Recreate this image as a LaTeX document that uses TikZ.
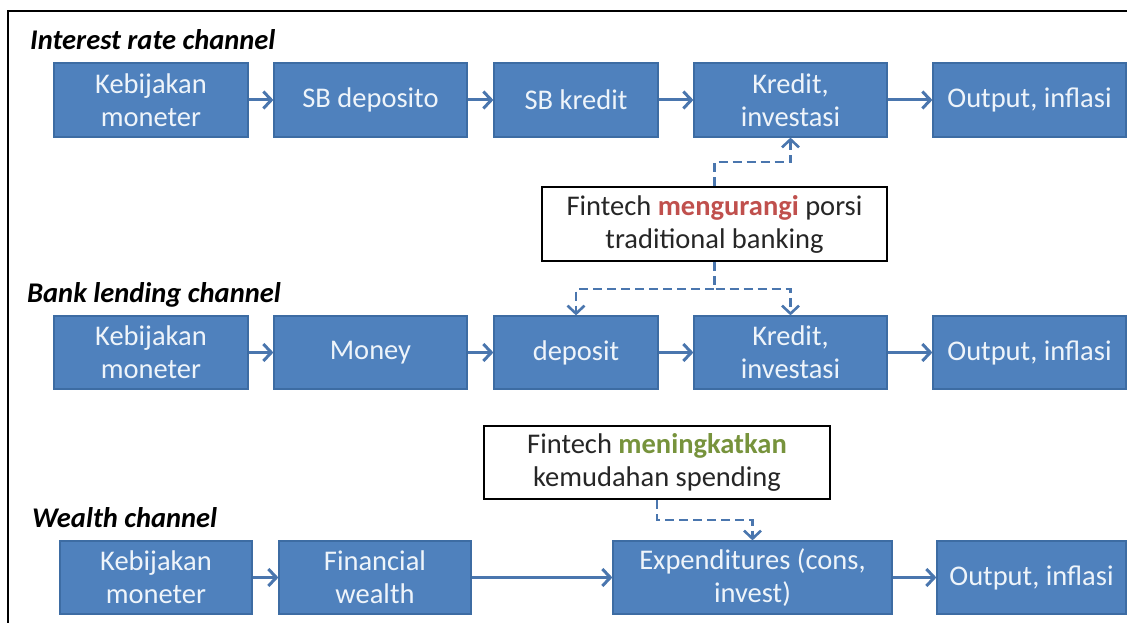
\documentclass[tikz,border=0pt]{standalone}
\usepackage{fontspec}
\setmainfont{Carlito}
\usetikzlibrary{arrows.meta}
\definecolor{boxblue}{HTML}{4F81BD}
\definecolor{boxedge}{HTML}{3D6CA3}
\definecolor{boxtext}{HTML}{EEF4FA}
\definecolor{linkblue}{HTML}{4A76AE}
\definecolor{redword}{HTML}{C0504D}
\definecolor{greenword}{HTML}{77933C}
\begin{document}
\begin{tikzpicture}[x=1pt,y=-1pt,
  stage/.style={draw=boxedge, fill=boxblue, line width=1.2pt, text=boxtext,
    inner sep=0pt, align=center, font=\fontsize{28.5}{33}\selectfont},
  note/.style={draw=black, fill=white, line width=2.2pt, text=black!85,
    inner sep=0pt, align=center, font=\fontsize{28.5}{33}\selectfont},
  chan/.style={anchor=base west, inner sep=0pt,
    font=\fontsize{28.5}{33}\selectfont\bfseries\itshape},
  flow/.style={draw=linkblue, line width=3pt,
    -{Straight Barb[length=8pt,width=17pt]}},
  hint/.style={draw=linkblue, line width=2.6pt, dash pattern=on 9pt off 5pt,
    -{Straight Barb[length=8pt,width=17pt]}}
]
\useasboundingbox (0,0) rectangle (1127,623);

% outer frame (left and top edges)
\draw[line width=2pt] (8,623) -- (8,11) -- (1127,11);

% channel titles
\node[chan] (t1) at (30,50) {Interest rate channel};
\node[chan] (t2) at (27,302) {Bank lending channel};
\node[chan] (t3) at (32,527) {Wealth channel};

% interest rate channel
\node[stage, minimum width=194pt, minimum height=74pt] (a1) at (151,100) {Kebijakan\\moneter};
\node[stage, minimum width=193pt, minimum height=74pt] (a2) at (370.5,100) {SB deposito};
\node[stage, minimum width=164pt, minimum height=74pt] (a3) at (576,100) {SB kredit};
\node[stage, minimum width=193pt, minimum height=74pt] (a4) at (790.5,100) {Kredit,\\investasi};
\node[stage, minimum width=193pt, minimum height=74pt] (a5) at (1029.5,100) {Output, inflasi};
\draw[flow] (a1) -- (a2);
\draw[flow] (a2) -- (a3);
\draw[flow] (a3) -- (a4);
\draw[flow] (a4) -- (a5);

% bank lending channel
\node[stage, minimum width=194pt, minimum height=73pt] (b1) at (151,352.5) {Kebijakan\\moneter};
\node[stage, minimum width=193pt, minimum height=73pt] (b2) at (370.5,352.5) {Money};
\node[stage, minimum width=164pt, minimum height=73pt] (b3) at (576,352.5) {deposit};
\node[stage, minimum width=193pt, minimum height=73pt] (b4) at (790.5,352.5) {Kredit,\\investasi};
\node[stage, minimum width=193pt, minimum height=73pt] (b5) at (1029.5,352.5) {Output, inflasi};
\draw[flow] (b1) -- (b2);
\draw[flow] (b2) -- (b3);
\draw[flow] (b3) -- (b4);
\draw[flow] (b4) -- (b5);

% wealth channel
\node[stage, minimum width=192pt, minimum height=73pt] (c1) at (156,577.5) {Kebijakan\\moneter};
\node[stage, minimum width=192pt, minimum height=73pt] (c2) at (375,577.5) {Financial\\wealth};
\node[stage, minimum width=279pt, minimum height=73pt] (c3) at (752.5,577.5) {Expenditures (cons,\\invest)};
\node[stage, minimum width=189pt, minimum height=73pt] (c4) at (1031.5,577.5) {Output, inflasi};
\draw[flow] (c1) -- (c2);
\draw[flow] (c2) -- (c3);
\draw[flow] (c3) -- (c4);

% fintech notes
\node[note, minimum width=345pt, minimum height=74pt] (f1) at (714.5,224)
  {Fintech \textcolor{redword}{\textbf{mengurangi}} porsi\\traditional banking};
\node[note, minimum width=346pt, minimum height=73pt] (f2) at (657,462.5)
  {Fintech \textcolor{greenword}{\textbf{meningkatkan}}\\kemudahan spending};

% fintech effects
\draw[hint] (f1.north) -- ++(0,-24) -| (a4.south);
\draw[hint] (f1.south) -- ++(0,27) -| (b3.north);
\draw[hint] (f1.south) -- ++(0,27) -| (b4.north);
\draw[hint] (f2.south) -- ++(0,20) -| (c3.north);
\end{tikzpicture}
\end{document}
